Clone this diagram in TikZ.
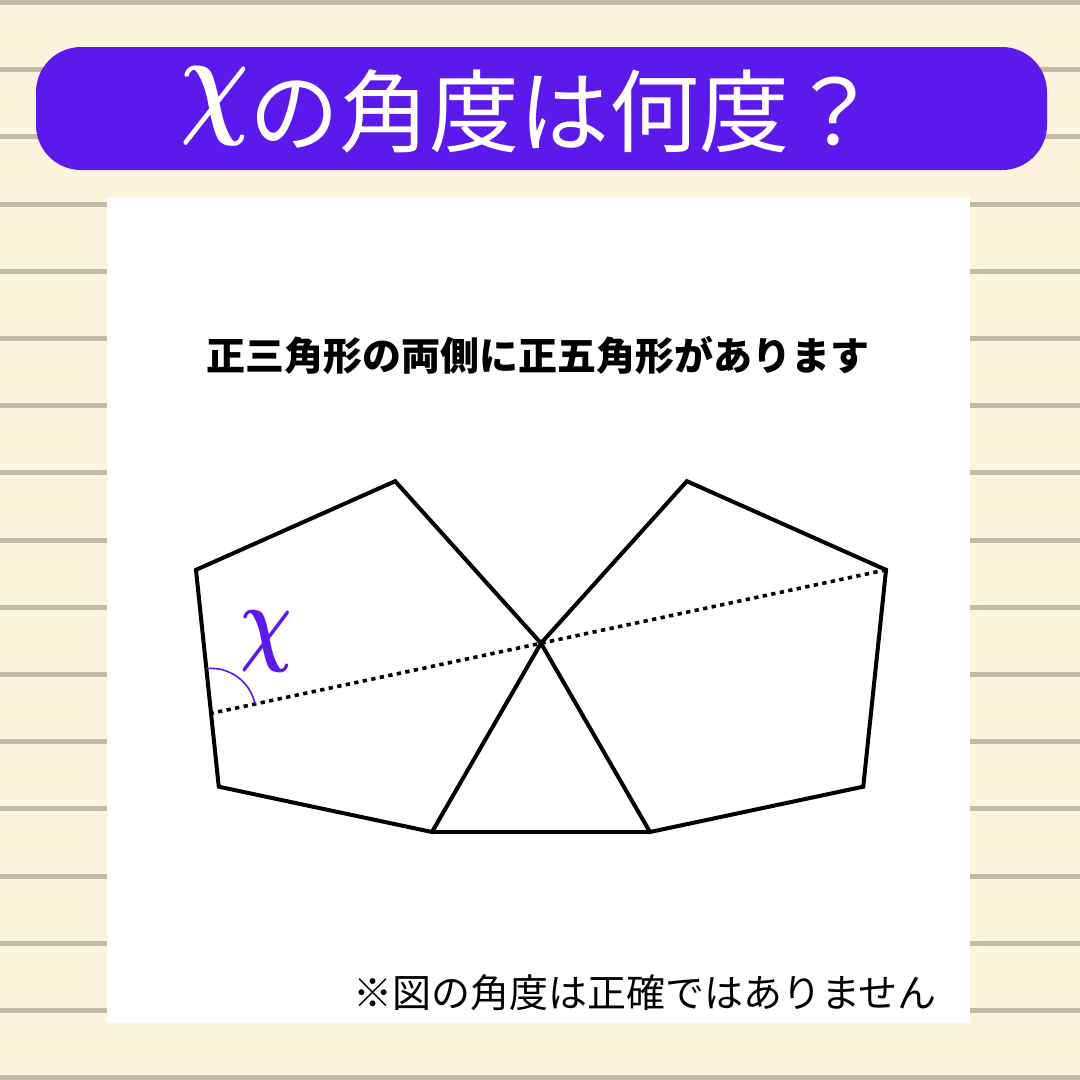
\documentclass[tikz,border=0pt]{standalone}
\usepackage{fontspec}
\usepackage{amsmath}
\usepackage{graphicx}
\usetikzlibrary{calc}
\newfontfamily\jpfont{Noto Sans CJK JP}
\definecolor{paper}{HTML}{FDF4E0}
\definecolor{ruling}{HTML}{C3BBA7}
\definecolor{banner}{HTML}{5B1AEB}
\newcommand{\bigchi}[2]{{\fontsize{10pt}{12pt}\selectfont\raisebox{#2\dimexpr1.94pt\relax}{\scalebox{#1}[#2]{$\boldsymbol{\chi}$}}}}

\begin{document}
\begin{tikzpicture}[x=1pt,y=-1pt,
    edge/.style={line width=4pt},
    dotline/.style={line width=3.6pt, dash pattern=on 4.3pt off 4.4pt},
    anglemark/.style={banner, line width=1.6pt}]
    \useasboundingbox (0,0) rectangle (1080,1080);
    \fill[paper] (0,0) rectangle (1080,1080);
    \foreach \k in {0,...,16}
        \draw[ruling, line width=5pt] (0,{2.5+67.2*\k}) -- (1080,{2.5+67.2*\k});
    \fill[banner, rounded corners=45pt] (36,47) rectangle (1047,170);
    \fill[white] (107,197) rectangle (970,1023);
    \node[anchor=base, inner sep=0, text=white, font=\jpfont\fontsize{90pt}{90pt}\selectfont] (title) at (530,145) {\bigchi{9.6}{12.3}の角度は何度？};
    \node[anchor=base, inner sep=0, font=\jpfont\bfseries\fontsize{39pt}{39pt}\selectfont] (question) at (538,370) {正三角形の両側に正五角形があります};
    \node[anchor=base, inner sep=0, font=\jpfont\fontsize{39pt}{39pt}\selectfont] (note) at (645,1007) {※図の角度は正確ではありません};

    \coordinate (T) at (541,643.2);
    \coordinate (A) at (432,832);
    \coordinate (B) at (650,832);
    \coordinate (L1) at (218.76,786.68);
    \coordinate (L2) at (195.97,569.87);
    \coordinate (L3) at (395.12,481.2);
    \coordinate (R1) at (863.24,786.68);
    \coordinate (R2) at (886.03,569.87);
    \coordinate (R3) at (686.88,481.2);
    \coordinate (X) at (intersection of R2--T and L1--L2);

    \draw[dotline] (R2) -- (X);
    \draw[edge] (T) -- (A) -- (L1) -- (L2) -- (L3) -- cycle;
    \draw[edge] (T) -- (B) -- (R1) -- (R2) -- (R3) -- cycle;
    \draw[edge] (A) -- (B);
    \draw[anglemark] ($(X)!45pt!(T)$) arc[start angle=12, end angle=96, radius=45pt];
    \node[banner, inner sep=0] (xlabel) at (266,641) {\bigchi{7.2}{9.6}};
\end{tikzpicture}
\end{document}
